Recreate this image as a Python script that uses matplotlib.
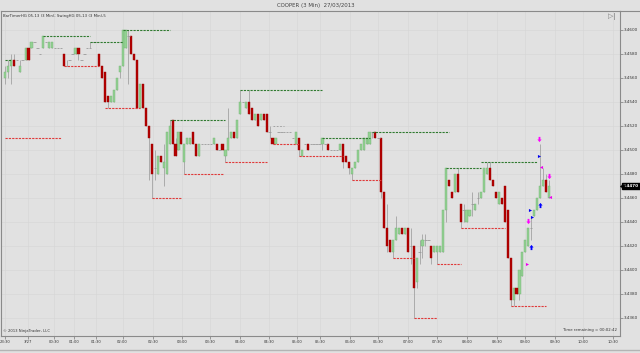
import matplotlib
matplotlib.use('Agg')
import matplotlib.pyplot as plt
import matplotlib.transforms as mtransforms
from matplotlib.path import Path
from matplotlib.lines import Line2D
import numpy as np

# 3 min bars, HG 05-13, 27/03/2013 (bar index = position on the time axis)
opens = [3.4560, 3.4565, 3.4570, 3.4575, 3.4575, 3.4565, 3.4575, 3.4575, 3.4585, 3.4585,
         3.4590, 3.4585, 3.4580, 3.4585, 3.4590, 3.4585, 3.4585, 3.4585, 3.4585, 3.4585,
         3.4580, 3.4570, 3.4575, 3.4580, 3.4580, 3.4585, 3.4575, 3.4580, 3.4585, 3.4585,
         3.4590, 3.4590, 3.4580, 3.4570, 3.4565, 3.4545, 3.4540, 3.4540, 3.4550, 3.4565,
         3.4570, 3.4585, 3.4595, 3.4595, 3.4580, 3.4575, 3.4535, 3.4555, 3.4535, 3.4520,
         3.4505, 3.4485, 3.4480, 3.4495, 3.4485, 3.4480, 3.4505, 3.4525, 3.4505, 3.4500,
         3.4515, 3.4490, 3.4505, 3.4505, 3.4515, 3.4505, 3.4495, 3.4505, 3.4505, 3.4505,
         3.4505, 3.4505, 3.4505, 3.4500, 3.4505, 3.4495, 3.4500, 3.4510, 3.4515, 3.4510,
         3.4530, 3.4540, 3.4535, 3.4540, 3.4535, 3.4525, 3.4530, 3.4525, 3.4530, 3.4530,
         3.4515, 3.4510, 3.4505, 3.4515, 3.4515, 3.4515, 3.4515, 3.4515, 3.4510, 3.4505,
         3.4510, 3.4495, 3.4505, 3.4505, 3.4505, 3.4505, 3.4505, 3.4505, 3.4505, 3.4505,
         3.4505, 3.4500, 3.4500, 3.4500, 3.4500, 3.4505, 3.4495, 3.4490, 3.4480, 3.4485,
         3.4490, 3.4500, 3.4500, 3.4505, 3.4505, 3.4515, 3.4515, 3.4510, 3.4510, 3.4465,
         3.4435, 3.4425, 3.4415, 3.4425, 3.4430, 3.4435, 3.4430, 3.4435, 3.4420, 3.4420,
         3.4390, 3.4415, 3.4420, 3.4425, 3.4425, 3.4420, 3.4415, 3.4415, 3.4415, 3.4415,
         3.4450, 3.4475, 3.4465, 3.4465, 3.4480, 3.4455, 3.4450, 3.4440, 3.4445, 3.4455,
         3.4450, 3.4460, 3.4460, 3.4465, 3.4480, 3.4485, 3.4475, 3.4465, 3.4455, 3.4460,
         3.4470, 3.4450, 3.4410, 3.4375, 3.4385, 3.4380, 3.4395, 3.4415, 3.4420, 3.4435,
         3.4445, 3.4450, 3.4460, 3.4470, 3.4475, 3.4460]
highs = [3.4570, 3.4575, 3.4580, 3.4580, 3.4575, 3.4575, 3.4575, 3.4585, 3.4585, 3.4590,
         3.4590, 3.4585, 3.4580, 3.4595, 3.4590, 3.4590, 3.4590, 3.4585, 3.4585, 3.4585,
         3.4580, 3.4575, 3.4575, 3.4580, 3.4585, 3.4585, 3.4575, 3.4580, 3.4585, 3.4590,
         3.4590, 3.4590, 3.4580, 3.4570, 3.4565, 3.4545, 3.4545, 3.4550, 3.4560, 3.4570,
         3.4600, 3.4600, 3.4600, 3.4595, 3.4580, 3.4575, 3.4555, 3.4555, 3.4535, 3.4520,
         3.4505, 3.4500, 3.4495, 3.4495, 3.4505, 3.4515, 3.4525, 3.4525, 3.4510, 3.4515,
         3.4515, 3.4505, 3.4510, 3.4510, 3.4515, 3.4505, 3.4505, 3.4505, 3.4505, 3.4505,
         3.4505, 3.4510, 3.4505, 3.4500, 3.4505, 3.4500, 3.4535, 3.4515, 3.4515, 3.4525,
         3.4550, 3.4540, 3.4540, 3.4550, 3.4535, 3.4530, 3.4530, 3.4530, 3.4530, 3.4530,
         3.4520, 3.4510, 3.4510, 3.4515, 3.4515, 3.4515, 3.4515, 3.4515, 3.4510, 3.4515,
         3.4510, 3.4500, 3.4505, 3.4505, 3.4505, 3.4505, 3.4505, 3.4505, 3.4510, 3.4505,
         3.4505, 3.4500, 3.4500, 3.4500, 3.4505, 3.4505, 3.4495, 3.4490, 3.4485, 3.4490,
         3.4500, 3.4505, 3.4510, 3.4510, 3.4515, 3.4515, 3.4515, 3.4510, 3.4510, 3.4465,
         3.4455, 3.4425, 3.4425, 3.4445, 3.4435, 3.4435, 3.4435, 3.4435, 3.4435, 3.4420,
         3.4410, 3.4425, 3.4430, 3.4430, 3.4425, 3.4420, 3.4420, 3.4420, 3.4420, 3.4450,
         3.4485, 3.4475, 3.4465, 3.4480, 3.4485, 3.4455, 3.4455, 3.4450, 3.4450, 3.4465,
         3.4455, 3.4465, 3.4465, 3.4485, 3.4490, 3.4490, 3.4475, 3.4465, 3.4465, 3.4460,
         3.4470, 3.4450, 3.4410, 3.4385, 3.4385, 3.4400, 3.4415, 3.4425, 3.4435, 3.4445,
         3.4450, 3.4460, 3.4505, 3.4485, 3.4480, 3.4475]
lows = [3.4555, 3.4560, 3.4555, 3.4570, 3.4575, 3.4565, 3.4575, 3.4575, 3.4575, 3.4585,
        3.4590, 3.4585, 3.4580, 3.4585, 3.4590, 3.4585, 3.4585, 3.4585, 3.4585, 3.4585,
        3.4570, 3.4570, 3.4575, 3.4580, 3.4580, 3.4575, 3.4575, 3.4580, 3.4585, 3.4585,
        3.4590, 3.4590, 3.4570, 3.4560, 3.4540, 3.4535, 3.4540, 3.4540, 3.4550, 3.4560,
        3.4570, 3.4585, 3.4555, 3.4580, 3.4575, 3.4535, 3.4535, 3.4535, 3.4520, 3.4475,
        3.4460, 3.4475, 3.4480, 3.4490, 3.4470, 3.4480, 3.4505, 3.4505, 3.4495, 3.4500,
        3.4505, 3.4480, 3.4505, 3.4505, 3.4505, 3.4495, 3.4495, 3.4505, 3.4505, 3.4505,
        3.4505, 3.4505, 3.4500, 3.4500, 3.4500, 3.4490, 3.4500, 3.4510, 3.4510, 3.4510,
        3.4530, 3.4540, 3.4535, 3.4530, 3.4525, 3.4525, 3.4520, 3.4525, 3.4525, 3.4515,
        3.4510, 3.4505, 3.4505, 3.4515, 3.4515, 3.4515, 3.4515, 3.4515, 3.4510, 3.4505,
        3.4495, 3.4495, 3.4505, 3.4500, 3.4505, 3.4505, 3.4505, 3.4505, 3.4500, 3.4505,
        3.4500, 3.4500, 3.4500, 3.4500, 3.4500, 3.4485, 3.4490, 3.4480, 3.4475, 3.4485,
        3.4490, 3.4500, 3.4500, 3.4505, 3.4505, 3.4510, 3.4510, 3.4510, 3.4460, 3.4435,
        3.4415, 3.4415, 3.4410, 3.4425, 3.4430, 3.4430, 3.4430, 3.4415, 3.4405, 3.4360,
        3.4385, 3.4405, 3.4410, 3.4420, 3.4425, 3.4405, 3.4415, 3.4405, 3.4415, 3.4415,
        3.4440, 3.4470, 3.4460, 3.4465, 3.4465, 3.4435, 3.4440, 3.4440, 3.4445, 3.4445,
        3.4450, 3.4455, 3.4460, 3.4465, 3.4480, 3.4475, 3.4470, 3.4460, 3.4455, 3.4455,
        3.4440, 3.4410, 3.4370, 3.4370, 3.4380, 3.4375, 3.4395, 3.4415, 3.4420, 3.4425,
        3.4445, 3.4450, 3.4460, 3.4470, 3.4465, 3.4460]
closes = [3.4565, 3.4570, 3.4575, 3.4570, 3.4575, 3.4570, 3.4575, 3.4585, 3.4575, 3.4590,
          3.4590, 3.4585, 3.4580, 3.4595, 3.4590, 3.4590, 3.4590, 3.4585, 3.4585, 3.4585,
          3.4570, 3.4570, 3.4575, 3.4580, 3.4585, 3.4580, 3.4575, 3.4580, 3.4585, 3.4585,
          3.4590, 3.4590, 3.4570, 3.4560, 3.4540, 3.4540, 3.4545, 3.4550, 3.4560, 3.4570,
          3.4600, 3.4600, 3.4595, 3.4580, 3.4575, 3.4535, 3.4555, 3.4535, 3.4520, 3.4510,
          3.4480, 3.4485, 3.4495, 3.4490, 3.4490, 3.4515, 3.4520, 3.4505, 3.4495, 3.4515,
          3.4505, 3.4505, 3.4510, 3.4510, 3.4505, 3.4495, 3.4505, 3.4505, 3.4505, 3.4505,
          3.4505, 3.4510, 3.4500, 3.4500, 3.4500, 3.4500, 3.4510, 3.4515, 3.4510, 3.4525,
          3.4540, 3.4540, 3.4540, 3.4530, 3.4525, 3.4530, 3.4520, 3.4530, 3.4525, 3.4515,
          3.4515, 3.4505, 3.4510, 3.4515, 3.4515, 3.4515, 3.4515, 3.4515, 3.4510, 3.4515,
          3.4500, 3.4500, 3.4505, 3.4500, 3.4505, 3.4505, 3.4505, 3.4505, 3.4510, 3.4505,
          3.4500, 3.4500, 3.4500, 3.4500, 3.4505, 3.4490, 3.4490, 3.4485, 3.4485, 3.4490,
          3.4500, 3.4505, 3.4510, 3.4510, 3.4515, 3.4515, 3.4510, 3.4510, 3.4465, 3.4435,
          3.4420, 3.4415, 3.4425, 3.4435, 3.4435, 3.4430, 3.4435, 3.4415, 3.4420, 3.4385,
          3.4410, 3.4415, 3.4425, 3.4425, 3.4425, 3.4410, 3.4420, 3.4420, 3.4420, 3.4450,
          3.4485, 3.4470, 3.4460, 3.4480, 3.4465, 3.4440, 3.4450, 3.4450, 3.4450, 3.4455,
          3.4455, 3.4460, 3.4465, 3.4485, 3.4485, 3.4475, 3.4470, 3.4460, 3.4465, 3.4455,
          3.4440, 3.4410, 3.4375, 3.4385, 3.4380, 3.4400, 3.4415, 3.4425, 3.4435, 3.4435,
          3.4450, 3.4460, 3.4470, 3.4475, 3.4465, 3.4470]

# swing lines (price, first bar, last bar)
swing_hi_price = [3.4575, 3.4595, 3.4590, 3.4600, 3.4525, 3.4550, 3.4510, 3.4515, 3.4485, 3.4490]
swing_hi_start = [0, 13, 29, 40, 56, 80, 108, 125, 150, 162]
swing_hi_end = [2, 29, 40, 56, 75, 108, 124, 151, 162, 181]
swing_lo_price = [3.4510, 3.4570, 3.4535, 3.4460, 3.4480, 3.4490, 3.4505, 3.4495,
                  3.4475, 3.4410, 3.4360, 3.4405, 3.4435, 3.4370]
swing_lo_start = [0, 20, 34, 50, 61, 75, 91, 100, 118, 132, 139, 147, 155, 172]
swing_lo_end = [19, 32, 46, 60, 74, 89, 100, 115, 128, 139, 147, 155, 170, 184]
stale_price = [3.4520]
stale_start = [91]
stale_end = [95]

# signal markers
dn_arrow_x = [181.6, 185.0, 177.9]
dn_arrow_y = [3.4509, 3.4478, 3.4441]
up_arrow_x = [182.0, 178.9]
up_arrow_y = [3.4454, 3.4419]
blue_tri_x = [181.6, 178.6, 179.3]
blue_tri_y = [3.4495, 3.4450, 3.4444]
pink_left_x = [182.3, 185.4]
pink_left_y = [3.4486, 3.4461]
pink_right_x = [177.6]
pink_right_y = [3.4405]

tick_pos = [0, 7.8, 16.7, 23.5, 31, 40, 50.3, 60.2, 69.7, 79.9, 89.8, 99.3, 107.1,
            117.3, 126.9, 137.1, 146.9, 157.1, 167.3, 176.9, 187.1, 196.6, 206.8]
tick_labels = ['23:30', '3/27', '00:30', '01:00', '01:30', '02:00', '02:30', '03:00',
               '03:30', '04:00', '04:30', '05:00', '05:30', '06:00', '06:30', '07:00',
               '07:30', '08:00', '08:30', '09:00', '09:30', '10:00', '10:30']
price_ticks = [3.4360, 3.4380, 3.4400, 3.4420, 3.4440, 3.4460, 3.4480,
               3.4500, 3.4520, 3.4540, 3.4560, 3.4580, 3.4600]
last_price = 3.4470

bg = '#e1e1e1'
fig = plt.figure(figsize=(6.4, 3.53), dpi=100)
fig.patch.set_facecolor(bg)
ax = fig.add_axes([1 / 640, 17 / 353, 619 / 640, 325 / 353])
ax.set_facecolor(bg)

o = np.array(opens)
h = np.array(highs)
l = np.array(lows)
c = np.array(closes)
idx = np.arange(len(o))
up = c > o
dn = c < o
flat = c == o

ax.vlines(idx, l, h, color='#a2a2a2', lw=0.6, zorder=2)
ax.bar(idx[up], c[up] - o[up], bottom=o[up], width=0.72, color='#93d193',
       edgecolor='#74b274', lw=0.3, zorder=3)
ax.bar(idx[dn], o[dn] - c[dn], bottom=c[dn], width=0.72, color='#b20000',
       edgecolor='#9a0000', lw=0.3, zorder=3)
ax.hlines(c[flat], idx[flat] - 0.4, idx[flat] + 0.4, color='#9a9a9a', lw=0.6, zorder=3)

for p, s, e in zip(swing_hi_price, swing_hi_start, swing_hi_end):
    ax.plot([s, e], [p, p], color='#2f7a2f', lw=0.8, ls=(0, (2, 1)), zorder=4)
for p, s, e in zip(swing_lo_price, swing_lo_start, swing_lo_end):
    ax.plot([s, e], [p, p], color='#e03a3a', lw=0.8, ls=(0, (2, 1)), zorder=4)
for p, s, e in zip(stale_price, stale_start, stale_end):
    ax.plot([s, e], [p, p], color='#999999', lw=0.6, ls=(0, (2, 2)), zorder=4)

# arrow shapes
dn_path = Path([(-0.35, 1), (0.35, 1), (0.35, 0), (0.8, 0), (0, -1), (-0.8, 0), (-0.35, 0), (-0.35, 1)],
               [Path.MOVETO] + [Path.LINETO] * 6 + [Path.CLOSEPOLY])
up_path = Path([(x, -y) for x, y in dn_path.vertices], dn_path.codes)
ax.scatter(dn_arrow_x, dn_arrow_y, marker=dn_path, s=14, color='#ff00ff', lw=0, zorder=5)
ax.scatter(up_arrow_x, up_arrow_y, marker=up_path, s=14, color='#0000ff', lw=0, zorder=5)
ax.scatter(blue_tri_x, blue_tri_y, marker='>', s=5, color='#0000ee', lw=0, zorder=5)
ax.scatter(pink_left_x, pink_left_y, marker='<', s=5, color='#ee00ee', lw=0, zorder=5)
ax.scatter(pink_right_x, pink_right_y, marker='>', s=5, color='#ee00ee', lw=0, zorder=5)

ax.set_xlim(-1.36, 209.2)
ax.set_ylim(3.4345, 3.46158)

ax.set_xticks(tick_pos)
ax.set_xticklabels(tick_labels, fontsize=2.7, color='#333333')
ax.yaxis.tick_right()
ax.set_yticks(price_ticks)
ax.set_yticklabels(['%.4f' % v for v in price_ticks], fontsize=3.0, color='#333333')
ax.tick_params(axis='both', length=1.8, width=0.5, color='#777777', pad=1.2)
ax.grid(True, color='#d7d7d7', lw=0.5, zorder=0)
for sp in ax.spines.values():
    sp.set_color('#8a8a8a')
    sp.set_linewidth(0.8)

# last price marker on the axis
tr = mtransforms.blended_transform_factory(ax.transAxes, ax.transData)
ax.text(1.005, last_price, '%.4f' % last_price, transform=tr, fontsize=3.0,
        color='white', va='center', ha='left', fontweight='bold',
        bbox=dict(boxstyle='square,pad=0.15', fc='black', ec='black'), zorder=6, clip_on=False)
ax.scatter([1.003], [last_price], marker='<', s=6, color='black', transform=tr, clip_on=False, zorder=6)

# header / footer rules
fig.add_artist(Line2D([620 / 640, 1], [1 - 11 / 353, 1 - 11 / 353], color='#8a8a8a', lw=0.8))
fig.add_artist(Line2D([0, 1], [1 - 350 / 353, 1 - 350 / 353], color='#b4b4b4', lw=1.0))

fig.text(0.494, 1 - 6 / 353, 'COOPER (3 Min)  27/03/2013', ha='center', va='center',
         fontsize=3.9, color='#444444')
fig.text(3 / 640, 1 - 16 / 353, 'BarTimerHG 05-13 (3 Min); SwingHG 05-13 (3 Min),5',
         ha='left', va='center', fontsize=2.8, color='#333333')
fig.text(612 / 640, 1 - 17 / 353, '\u25b7|', ha='center', va='center', fontsize=5, color='#777777')
fig.text(3 / 640, 1 - 331 / 353, '\u00a9 2013 NinjaTrader, LLC', ha='left', va='center',
         fontsize=2.7, color='#333333')
fig.text(617 / 640, 1 - 330 / 353, 'Time remaining = 00:02:42', ha='right', va='center',
         fontsize=2.8, color='#333333')

fig.savefig('out.png', dpi=100, facecolor=bg)
